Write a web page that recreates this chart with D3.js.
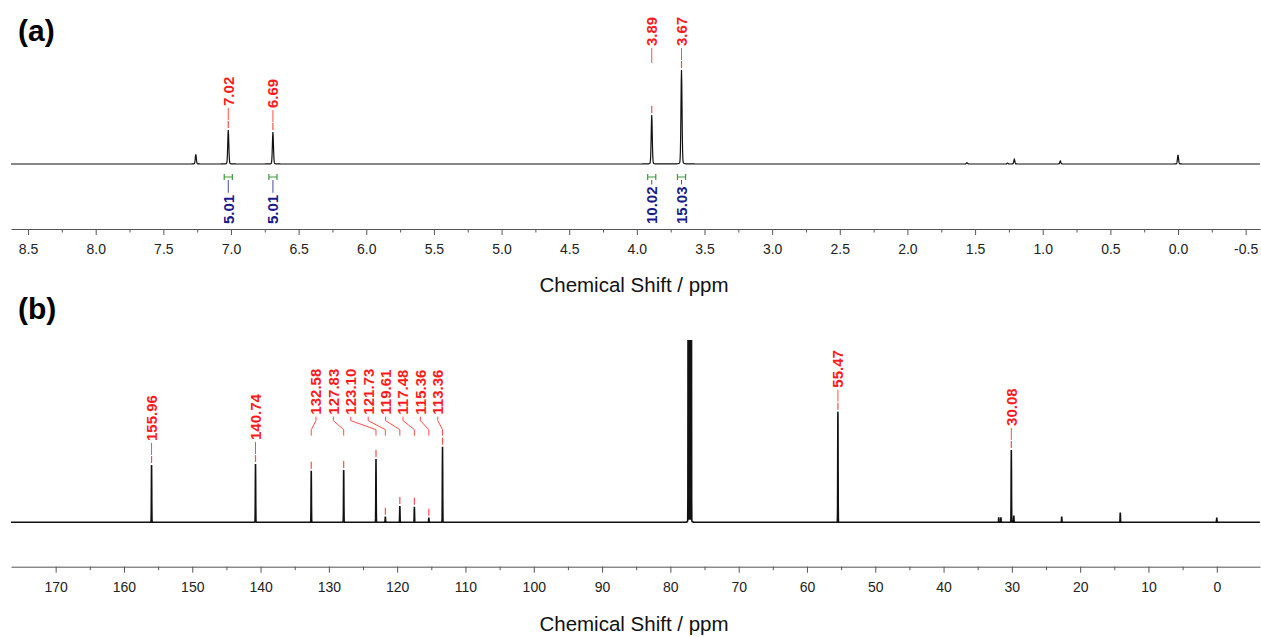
<!DOCTYPE html>
<html>
<head>
<meta charset="utf-8">
<script src="https://cdn.jsdelivr.net/npm/d3@7/dist/d3.min.js"></script>
<style>
	body { margin: 0; background: #fff; }
	svg { display: block; font-family: "Liberation Sans", Arial, sans-serif; }
</style>
</head>
<body>
<svg id="chart" width="1261" height="637"></svg>
<script>
// ---- (a) 1H spectrum ----
let peaksA_ppm = [7.26, 7.02, 6.69, 3.89, 3.67, 1.56, 1.26, 1.21, 0.87, 0.00],
	peaksA_int = [10.3, 36.2, 34.0, 52.0, 100, 1.4, 1.0, 5.0, 3.2, 9.6],
	labelsA = [[7.02], [6.69], [3.89, 3.67]],
	integA_from = [7.05, 6.72, 3.92, 3.70],
	integA_to = [6.99, 6.66, 3.86, 3.64],
	integA_val = [5.01, 5.01, 10.02, 15.03],
	ticksA = [8.5, 8.0, 7.5, 7.0, 6.5, 6.0, 5.5, 5.0, 4.5, 4.0, 3.5, 3.0, 2.5, 2.0, 1.5, 1.0, 0.5, 0.0, -0.5];

// ---- (b) 13C spectrum ----
let peaksB_ppm = [155.96, 140.74, 132.58, 127.83, 123.10, 121.73, 119.61, 117.48, 115.36, 113.36,
		77.37, 77.16, 76.95, 55.47, 31.92, 31.60, 30.08, 29.72, 22.70, 14.13, 0.00],
	peaksB_int = [51.8, 52.7, 46.7, 47.3, 57.2, 5.1, 14.7, 14.1, 4.2, 68.4,
		900, 900, 900, 100, 4.5, 4.5, 65.4, 6.0, 5.1, 8.7, 4.3],
	labelsB = [[155.96], [140.74], [132.58, 127.83, 123.10, 121.73, 119.61, 117.48, 115.36, 113.36], [55.47], [30.08]],
	ticksB = [170, 160, 150, 140, 130, 120, 110, 100, 90, 80, 70, 60, 50, 40, 30, 20, 10, 0];

let svg = d3.select('#chart'),
	W = 1261,
	labelColor = '#ff1a1a',
	labelLine = '#ff4d4d',
	labelSpacing = 17.4;

let xA = d3.scaleLinear().domain([8.626, -0.606]).range([11, 1260]),
	yA = d3.scaleLinear().domain([0, 100]).range([164, 70]),
	xB = d3.scaleLinear().domain([176.54, -6.33]).range([11, 1260]),
	yB = d3.scaleLinear().domain([0, 100]).range([522.3, 411.7]);

// line shape: mostly gaussian with a small lorentzian foot
let shapeA = {sigma: 0.004, eta: 0.15},
	shapeB = {sigma: 0.025, eta: 0.02};

function intensityAt(ppm, ppms, ints, shape) {
	let s = 0,
		sg = shape.sigma;
	for (let i = 0; i < ppms.length; i++) {
		let d = ppm - ppms[i],
			gauss = Math.exp(-d * d / (2 * sg * sg)),
			lor = sg * sg / (d * d + sg * sg);
		s += ints[i] * ((1 - shape.eta) * gauss + shape.eta * lor);
	}
	return s;
}

function buildTrace(ppms, ints, x, shape, step) {
	let [hi, lo] = x.domain(),
		pts = [];
	for (let p = hi; p >= lo; p -= step) pts.push(p);
	ppms.forEach(p => {
		pts.push(p);
		pts.push(p - shape.sigma * 1.5, p + shape.sigma * 1.5);
	});
	pts.sort((a, b) => b - a);
	return pts.map(p => [p, intensityAt(p, ppms, ints, shape)]);
}

function drawAxis(x, yPos, majors, fmt, title, titleY) {
	let g = svg.append('g')
		.attr('transform', `translate(0, ${yPos})`);

	let minors = [];
	for (let i = 0; i < majors.length - 1; i++) minors.push((majors[i] + majors[i+1]) / 2);

	g.append('g')
		.call(d3.axisBottom(x).tickValues(minors).tickSize(3.5).tickFormat(''))
		.call(a => a.select('.domain').remove());

	g.append('g')
		.call(d3.axisBottom(x).tickValues(majors).tickSize(6).tickSizeOuter(0).tickPadding(9).tickFormat(fmt));

	g.selectAll('path, line').attr('stroke', '#555');
	g.selectAll('text')
		.attr('fill', '#222')
		.style('font-size', '14px')
		.style('font-family', '"Liberation Sans", Arial, sans-serif');

	svg.append('text')
		.attr('x', 634)
		.attr('y', titleY)
		.attr('text-anchor', 'middle')
		.attr('fill', '#111')
		.style('font-size', '20.5px')
		.text(title);
}

function drawLabels(x, y, groups, ppms, ints, shape) {
	let g = svg.append('g');
	groups.forEach(grp => {
		let px = grp.map(p => x(p)),
			tops = grp.map(p => y(intensityAt(p, ppms, ints, shape))),
			straight = true;
		for (let i = 1; i < px.length; i++) {
			if (Math.abs(px[i] - px[i-1]) < labelSpacing) straight = false;
		}
		if (px.length > 2) straight = false;

		let lx, tb;
		if (straight) {
			lx = px;
			tb = d3.min(tops) - 24;
		} else {
			let mid = (px[0] + px[px.length-1]) / 2;
			lx = px.map((d, i) => mid + (i - (px.length - 1) / 2) * labelSpacing);
			tb = d3.min(tops) - 32;
		}

		grp.forEach((p, i) => {
			g.append('text')
				.attr('transform', `translate(${lx[i]}, ${tb}) rotate(-90)`)
				.attr('dy', '0.36em')
				.attr('fill', labelColor)
				.style('font-size', '15px')
				.style('font-weight', 'bold')
				.text(d3.format('.2f')(p));

			let path;
			if (straight) {
				let end = Math.min(tb + 17, tops[i] - 10);
				path = `M${lx[i]},${tb + 2}V${end}`;
			} else {
				path = `M${lx[i]},${tb + 2}V${tb + 6}L${px[i]},${tb + 15}V${tb + 21}`;
			}
			g.append('path')
				.attr('d', path)
				.attr('fill', 'none')
				.attr('stroke', labelLine)
				.attr('stroke-width', 1);
			g.append('path')
				.attr('d', `M${px[i]},${tops[i] - 9}V${tops[i] - 2}`)
				.attr('stroke', labelLine)
				.attr('stroke-width', 1.2);
		});
	});
}

// panel letters
svg.append('text').attr('x', 18).attr('y', 41)
	.style('font-size', '30px').style('font-weight', 'bold').text('(a)');
svg.append('text').attr('x', 18).attr('y', 319)
	.style('font-size', '30px').style('font-weight', 'bold').text('(b)');

// ---- panel (a) ----
let traceA = buildTrace(peaksA_ppm, peaksA_int, xA, shapeA, 0.002);
svg.append('path')
	.datum(traceA)
	.attr('d', d3.line().x(d => xA(d[0])).y(d => yA(d[1])))
	.attr('fill', 'none')
	.attr('stroke', '#111')
	.attr('stroke-width', 1.2);

drawLabels(xA, yA, labelsA, peaksA_ppm, peaksA_int, shapeA);

// integrals
let integ = svg.append('g');
integA_val.forEach((v, i) => {
	let x0 = xA(integA_from[i]),
		x1 = xA(integA_to[i]),
		xc = (x0 + x1) / 2;
	integ.append('path')
		.attr('d', `M${x0},174V180M${x0},177H${x1}M${x1},174V180`)
		.attr('fill', 'none')
		.attr('stroke', '#3c9a3c')
		.attr('stroke-width', 1.2);
	let t = integ.append('text')
		.attr('transform', `translate(${xc}, 224) rotate(-90)`)
		.attr('dy', '0.36em')
		.attr('fill', '#1a1a8a')
		.style('font-size', '15px')
		.style('font-weight', 'bold')
		.text(d3.format('.2f')(v));
	let len = t.node().getComputedTextLength();
	integ.append('path')
		.attr('d', `M${xc},180V${224 - len - 2}`)
		.attr('stroke', '#4a4aa0')
		.attr('stroke-width', 1);
});

let fmtA = d => d3.format('.1f')(d).replace('\u2212', '-');
drawAxis(xA, 229, ticksA, fmtA, 'Chemical Shift / ppm', 292);

// ---- panel (b) ----
svg.append('clipPath')
	.attr('id', 'clipB')
	.append('rect')
	.attr('x', 0).attr('y', 340)
	.attr('width', W).attr('height', 220);

let traceB = buildTrace(peaksB_ppm, peaksB_int, xB, shapeB, 0.02);
svg.append('path')
	.datum(traceB)
	.attr('clip-path', 'url(#clipB)')
	.attr('d', d3.line().x(d => xB(d[0])).y(d => yB(d[1])))
	.attr('fill', 'none')
	.attr('stroke', '#111')
	.attr('stroke-width', 1.6);

drawLabels(xB, yB, labelsB, peaksB_ppm, peaksB_int, shapeB);

drawAxis(xB, 566.7, ticksB, d3.format('d'), 'Chemical Shift / ppm', 631);
</script>
</body>
</html>
